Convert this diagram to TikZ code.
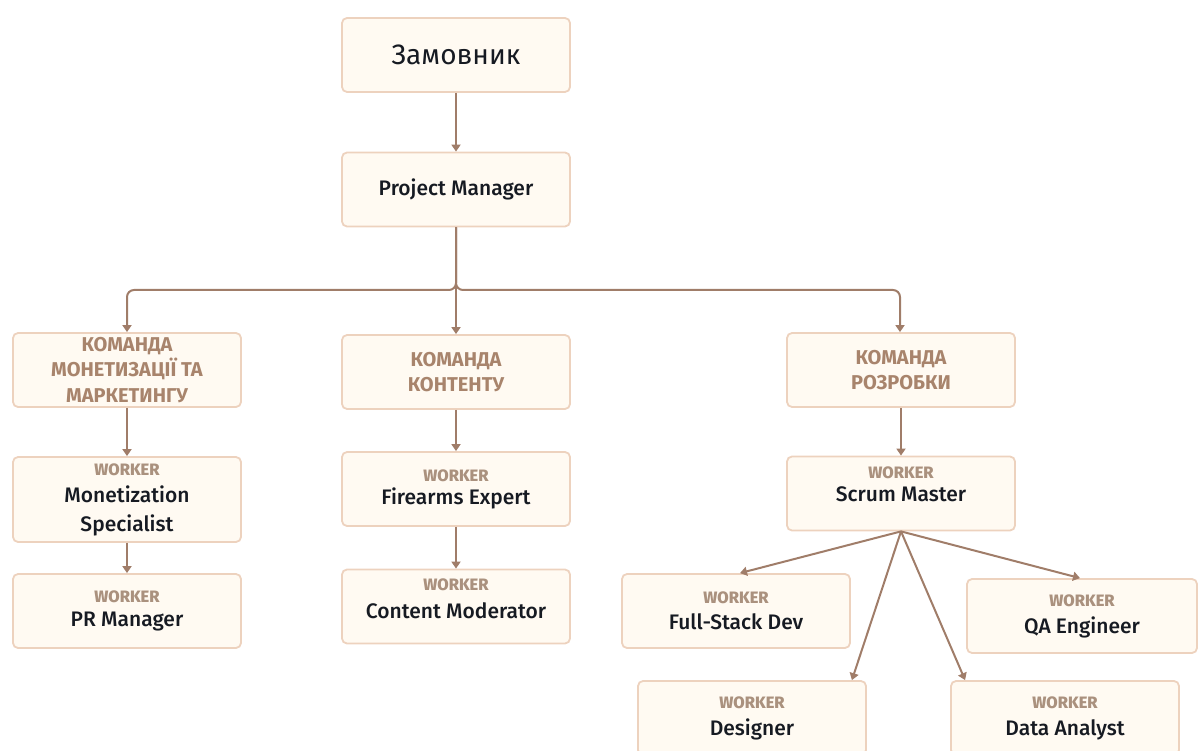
\documentclass[tikz,border=0pt]{standalone}
\usepackage{fontspec}
\setmainfont{Fira Sans}
\newfontfamily\medfont{Fira Sans Medium}
\usetikzlibrary{arrows.meta}

\definecolor{boxfill}{HTML}{FFFAF2}
\definecolor{boxline}{HTML}{EDD2BE}
\definecolor{linkcol}{HTML}{A07D69}
\definecolor{teamcol}{HTML}{A8846C}
\definecolor{wkcol}{HTML}{AA917E}
\definecolor{namecol}{HTML}{161A22}

\newcommand\wk{{\color{wkcol}\bfseries\fontsize{16.5}{19}\selectfont WORKER}}

\tikzset{
  box/.style={draw=boxline, fill=boxfill, line width=1.8pt, rounded corners=5pt,
    minimum width=228pt, minimum height=74pt, align=center, inner sep=0pt,
    text=namecol, font=\medfont\fontsize{21}{23}\selectfont},
  team/.style={box, text=teamcol, font=\bfseries\fontsize{20}{25.5}\selectfont},
  link/.style={draw=linkcol, line width=2pt,
    -{Triangle[length=7pt,width=9pt]}},
}

\begin{document}
\begin{tikzpicture}[x=1pt,y=-1pt]
\useasboundingbox (0,0) rectangle (1202,751);
\clip (0,0) rectangle (1202,751);

% top of the chain
\node[box, font=\fontsize{28}{30}\selectfont] (cust) at (456,55) {Замовник};
\node[box] (pm) at (456,189.5) {Project Manager};

% teams
\node[team] (tmon) at (127,370) {КОМАНДА\\МОНЕТИЗАЦІЇ ТА\\МАРКЕТИНГУ};
\node[team] (tcon) at (456,372) {КОМАНДА\\КОНТЕНТУ};
\node[team] (tdev) at (901,370) {КОМАНДА\\РОЗРОБКИ};

% monetization branch
\node[box, minimum height=85pt] (mon) at (127,499.5) {\wk\\[4pt]Monetization\\[6pt]Specialist};
\node[box] (pr) at (127,611) {\wk\\[1pt]PR Manager};

% content branch
\node[box] (fire) at (456,489) {\wk\\Firearms Expert};
\node[box] (mod) at (456,606.5) {\wk\\[5pt]Content Moderator\\[-15pt]\strut};

% development branch
\node[box] (scrum) at (901,493.5) {\wk\\Scrum Master\\[-11pt]\strut};
\node[box] (fs) at (736,611) {\wk\\[3pt]Full-Stack Dev};
\node[box, minimum width=230pt] (qa) at (1082,616) {\wk\\[4pt]QA Engineer};
\node[box] (des) at (752,718) {\wk\\[4pt]Designer};
\node[box] (da) at (1065,718) {\wk\\[4pt]Data Analyst};

% connectors
\coordinate (split) at (456,290);
\draw[link] (cust) -- (pm);
\draw[link] (pm) -- (tcon);
\draw[link, rounded corners=7pt] (pm.south) -- (split) -| (tmon.north);
\draw[link, rounded corners=7pt] (pm.south) -- (split) -| ([xshift=-1pt]tdev.north);
\draw[link] (tmon) -- (mon);
\draw[link] (mon) -- (pr);
\draw[link] (tcon) -- (fire);
\draw[link] (fire) -- (mod);
\draw[link] (tdev) -- (scrum);
\draw[link] (scrum.south) -- ([xshift=4pt]fs.north);
\draw[link] (scrum.south) -- ([xshift=-15pt]des.north east);
\draw[link] (scrum.south) -- ([xshift=15pt]da.north west);
\draw[link] (scrum.south) -- ([xshift=-2pt]qa.north);
\end{tikzpicture}
\end{document}
